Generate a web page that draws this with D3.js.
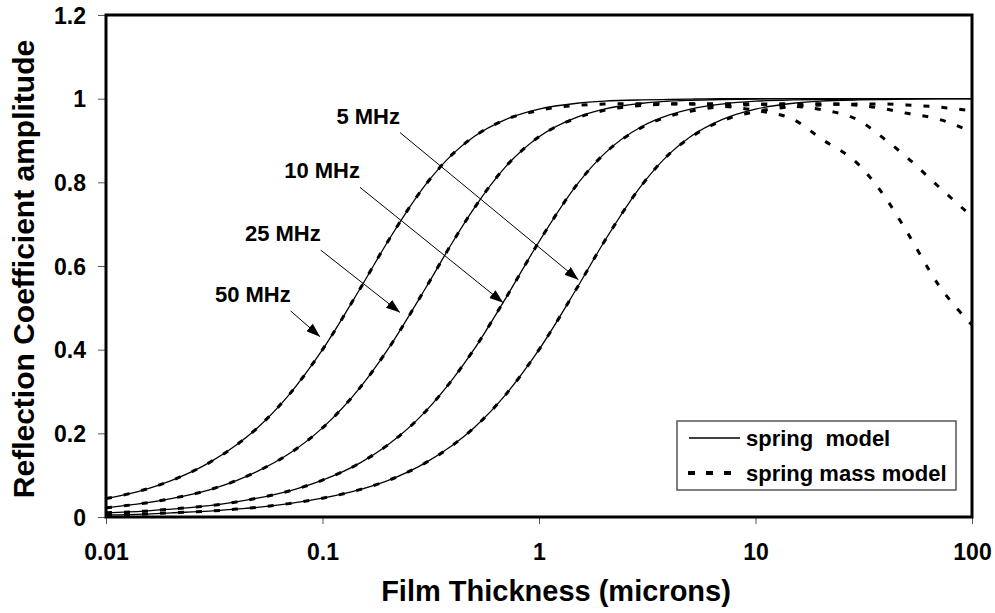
<!DOCTYPE html>
<html>
<head>
<meta charset="utf-8">
<script src="https://cdn.jsdelivr.net/npm/d3@7"></script>
<style>
  body { margin: 0; background: #fff; }
  text { font-family: "Liberation Sans", Arial, sans-serif; font-weight: bold; fill: #000; }
</style>
</head>
<body>
<div id="chart"></div>
<script>
// film thickness in microns
const thickness = [0.01, 0.015, 0.02, 0.03, 0.04, 0.05, 0.07, 0.1, 0.15, 0.2, 0.3, 0.4, 0.5, 0.7,
  1, 1.5, 2, 3, 4, 5, 7, 10, 15, 20, 30, 40, 50, 70, 100];

// spring model
const spring50 = [0.044, 0.065, 0.087, 0.130, 0.172, 0.213, 0.292, 0.400, 0.548, 0.658, 0.795, 0.868, 0.909, 0.950,
  0.975, 0.989, 0.994, 0.997, 0.998, 0.999, 1.0, 1.0, 1.0, 1.0, 1.0, 1.0, 1.0, 1.0, 1.0];
const spring25 = [0.022, 0.033, 0.044, 0.065, 0.087, 0.109, 0.151, 0.213, 0.311, 0.400, 0.548, 0.658, 0.737, 0.837,
  0.909, 0.956, 0.975, 0.989, 0.994, 0.996, 0.998, 0.999, 1.0, 1.0, 1.0, 1.0, 1.0, 1.0, 1.0];
const spring10 = [0.010, 0.014, 0.019, 0.027, 0.036, 0.045, 0.062, 0.088, 0.130, 0.172, 0.253, 0.330, 0.400, 0.522,
  0.658, 0.795, 0.868, 0.934, 0.961, 0.975, 0.987, 0.994, 0.997, 0.998, 0.999, 1.0, 1.0, 1.0, 1.0];
const spring5 = [0.005, 0.007, 0.010, 0.014, 0.019, 0.023, 0.032, 0.045, 0.066, 0.087, 0.130, 0.172, 0.213, 0.292,
  0.400, 0.548, 0.658, 0.795, 0.868, 0.909, 0.950, 0.975, 0.989, 0.994, 0.997, 0.998, 0.999, 1.0, 1.0];

// spring mass model
const mass50 = [0.044, 0.065, 0.087, 0.130, 0.172, 0.213, 0.292, 0.400, 0.548, 0.658, 0.795, 0.868, 0.909, 0.950,
  0.972, 0.984, 0.987, 0.988, 0.988, 0.987, 0.982, 0.972, 0.950, 0.905, 0.842, 0.762, 0.682, 0.555, 0.459];
const mass25 = [0.022, 0.033, 0.044, 0.065, 0.087, 0.109, 0.151, 0.213, 0.311, 0.400, 0.548, 0.658, 0.737, 0.837,
  0.909, 0.954, 0.972, 0.984, 0.987, 0.988, 0.988, 0.987, 0.982, 0.974, 0.948, 0.901, 0.860, 0.790, 0.718];
const mass10 = [0.010, 0.014, 0.019, 0.027, 0.036, 0.045, 0.062, 0.088, 0.130, 0.172, 0.253, 0.330, 0.400, 0.522,
  0.658, 0.795, 0.868, 0.932, 0.958, 0.970, 0.981, 0.986, 0.988, 0.988, 0.984, 0.975, 0.965, 0.951, 0.920];
const mass5 = [0.005, 0.007, 0.010, 0.014, 0.019, 0.023, 0.032, 0.045, 0.066, 0.087, 0.130, 0.172, 0.213, 0.292,
  0.400, 0.548, 0.658, 0.795, 0.868, 0.907, 0.947, 0.969, 0.981, 0.985, 0.987, 0.987, 0.985, 0.980, 0.971];

const xTicks = [0.01, 0.1, 1, 10, 100];
const yTicks = [0, 0.2, 0.4, 0.6, 0.8, 1, 1.2];

// frequency labels: arrow start and tip in data units
const freqLabels = ["5 MHz", "10 MHz", "25 MHz", "50 MHz"];
const arrowFrom = [[0.228, 0.919], [0.149, 0.788], [0.0981, 0.638], [0.0713, 0.4925]];
const arrowTo = [[1.52, 0.567], [0.684, 0.512], [0.228, 0.489], [0.0974, 0.431]];

const legendLabels = ["spring  model", "spring mass model"];

const width = 995, height = 613,
  margin = { top: 15, right: 23, bottom: 96, left: 106 };

const svg = d3.select("#chart").append("svg")
  .attr("width", width)
  .attr("height", height);

const xScale = d3.scaleLog()
  .domain([0.01, 100])
  .range([margin.left, width - margin.right]);

const yScale = d3.scaleLinear()
  .domain([0, 1.2])
  .range([height - margin.bottom, margin.top]);

const fmt = d => String(d);

// axes
const xAxis = d3.axisBottom(xScale).tickValues(xTicks).tickFormat(fmt).tickSize(7).tickSizeOuter(0);
const yAxis = d3.axisLeft(yScale).tickValues(yTicks).tickFormat(fmt).tickSize(8).tickSizeOuter(0).tickPadding(12);

const gx = svg.append("g")
  .attr("transform", `translate(0,${height - margin.bottom})`)
  .call(xAxis);
gx.select(".domain").remove();
gx.selectAll(".tick line").attr("stroke", "#555");
gx.selectAll(".tick text")
  .attr("dy", null)
  .attr("y", 43)
  .style("font-size", "23px");

const gy = svg.append("g")
  .attr("transform", `translate(${margin.left},0)`)
  .call(yAxis);
gy.select(".domain").remove();
gy.selectAll(".tick line").attr("stroke", "#555");
gy.selectAll(".tick text")
  .attr("dy", "0.36em")
  .style("font-size", "23px");

// axis titles
svg.append("text")
  .attr("x", 556)
  .attr("y", 601)
  .attr("text-anchor", "middle")
  .style("font-size", "29px")
  .text("Film Thickness (microns)");

svg.append("text")
  .attr("transform", `translate(34,${(yScale.range()[0] + yScale.range()[1]) / 2 + 3}) rotate(-90)`)
  .attr("text-anchor", "middle")
  .style("font-size", "30px")
  .text("Reflection Coefficient amplitude");

// curves
const line = d3.line()
  .x((d, i) => xScale(thickness[i]))
  .y(d => yScale(d))
  .curve(d3.curveMonotoneX);

const plot = svg.append("g");

[spring50, spring25, spring10, spring5].forEach(s => {
  plot.append("path")
    .datum(s)
    .attr("fill", "none")
    .attr("stroke", "#000")
    .attr("stroke-width", 1.3)
    .attr("d", line);
});

[mass50, mass25, mass10, mass5].forEach(s => {
  plot.append("path")
    .datum(s)
    .attr("fill", "none")
    .attr("stroke", "#000")
    .attr("stroke-width", 3)
    .attr("stroke-dasharray", "6,12")
    .attr("d", line);
});

// plot frame
svg.append("rect")
  .attr("x", margin.left)
  .attr("y", margin.top)
  .attr("width", width - margin.right - margin.left)
  .attr("height", height - margin.bottom - margin.top)
  .attr("fill", "none")
  .attr("stroke", "#000")
  .attr("stroke-width", 3);

// arrow annotations
svg.append("defs").append("marker")
  .attr("id", "head")
  .attr("viewBox", "0 0 14 10")
  .attr("refX", 14)
  .attr("refY", 5)
  .attr("markerWidth", 14)
  .attr("markerHeight", 10)
  .attr("markerUnits", "userSpaceOnUse")
  .attr("orient", "auto")
  .append("path")
  .attr("d", "M0,0L14,5L0,10Z")
  .attr("fill", "#000");

freqLabels.forEach((lab, i) => {
  const x0 = xScale(arrowFrom[i][0]), y0 = yScale(arrowFrom[i][1]);
  const x1 = xScale(arrowTo[i][0]), y1 = yScale(arrowTo[i][1]);
  svg.append("line")
    .attr("x1", x0).attr("y1", y0)
    .attr("x2", x1).attr("y2", y1)
    .attr("stroke", "#000")
    .attr("stroke-width", 1)
    .attr("marker-end", "url(#head)");
  svg.append("text")
    .attr("x", x0)
    .attr("y", y0 - 9)
    .attr("text-anchor", "end")
    .style("font-size", "22px")
    .text(lab);
});

// legend
const legend = svg.append("g").attr("transform", "translate(677,421)");
legend.append("rect")
  .attr("width", 279)
  .attr("height", 69)
  .attr("fill", "#fff")
  .attr("stroke", "#555")
  .attr("stroke-width", 1.5);

legend.append("line")
  .attr("x1", 12).attr("x2", 63)
  .attr("y1", 17).attr("y2", 17)
  .attr("stroke", "#000")
  .attr("stroke-width", 1.3);

legend.append("line")
  .attr("x1", 11).attr("x2", 58)
  .attr("y1", 52).attr("y2", 52)
  .attr("stroke", "#000")
  .attr("stroke-width", 4)
  .attr("stroke-dasharray", "7,11");

legend.selectAll("text.leg")
  .data(legendLabels)
  .join("text")
  .attr("class", "leg")
  .attr("x", 69)
  .attr("y", (d, i) => 25 + i * 35)
  .style("font-size", "22px")
  .style("white-space", "pre")
  .text(d => d);
</script>
</body>
</html>
